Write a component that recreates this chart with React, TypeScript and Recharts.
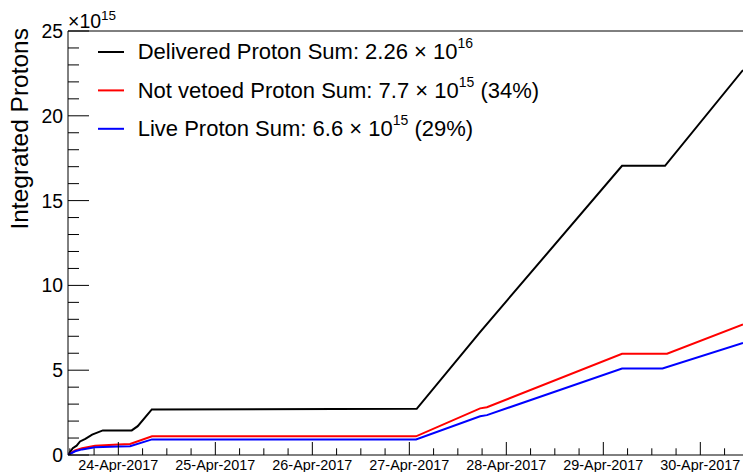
import React from 'react';
import { LineChart, Line, XAxis, YAxis, ReferenceLine, Legend } from 'recharts';

// time axis: days since 24-Apr-2017 00:00
const dayTicks = [0, 1, 2, 3, 4, 5, 6];
const dayLabels = ['24-Apr-2017', '25-Apr-2017', '26-Apr-2017', '27-Apr-2017', '28-Apr-2017', '29-Apr-2017', '30-Apr-2017'];
const minorOffsets = [-0.5, -0.25, 0, 0.25];
const xDomain = [-0.519, 6.44];

const yMajorTicks = [0, 5, 10, 15, 20, 25];
const yAllTicks = [0, 1, 2, 3, 4, 5, 6, 7, 8, 9, 10, 11, 12, 13, 14, 15, 16, 17, 18, 19, 20, 21, 22, 23, 24, 25];

// series (units of 1e15 protons)
const deliveredT = [-0.519, -0.47, -0.43, -0.395, -0.34, -0.27, -0.16, 0.138, 0.2, 0.345, 3.076, 3.729, 5.193, 5.636, 6.44];
const deliveredV = [0, 0.4, 0.55, 0.8, 0.95, 1.2, 1.45, 1.45, 1.7, 2.69, 2.72, 7.25, 17.05, 17.05, 22.7];

const notVetoedT = [-0.519, -0.446, -0.374, -0.24, 0.0, 0.121, 0.347, 3.069, 3.73, 3.8, 5.193, 5.657, 6.44];
const notVetoedV = [0, 0.27, 0.4, 0.55, 0.62, 0.65, 1.1, 1.1, 2.75, 2.82, 5.97, 5.97, 7.7];

const liveT = [-0.519, -0.446, -0.374, -0.24, 0.0, 0.121, 0.347, 3.069, 3.73, 3.8, 5.193, 5.61, 6.44];
const liveV = [0, 0.22, 0.33, 0.45, 0.5, 0.52, 0.92, 0.92, 2.28, 2.35, 5.1, 5.1, 6.6];

const seriesNames = ['Delivered Proton Sum', 'Not vetoed Proton Sum', 'Live Proton Sum'];
const seriesMantissa = ['2.26', '7.7', '6.6'];
const seriesExponent = ['16', '15', '15'];
const seriesFraction = ['', '(34%)', '(29%)'];
const seriesColors = ['#000000', '#ff0000', '#0000ff'];

const FONT = '"Liberation Sans", Arial, Helvetica, sans-serif';

const toRows = (ts: number[], vs: number[]) => ts.map((t, i) => ({ t, v: vs[i] }));
const deliveredData = toRows(deliveredT, deliveredV);
const notVetoedData = toRows(notVetoedT, notVetoedV);
const liveData = toRows(liveT, liveV);

const xTicks: number[] = [];
dayTicks.forEach((d) => minorOffsets.forEach((o) => {
  const v = d + o;
  if (v >= xDomain[0] && v <= xDomain[1] && !xTicks.includes(v)) xTicks.push(v);
}));
[6.25].forEach((v) => { if (!xTicks.includes(v)) xTicks.push(v); });
xTicks.sort((a, b) => a - b);

const XTick = (props: any) => {
  const { x, y, payload } = props;
  const v = payload.value;
  const idx = dayTicks.indexOf(v);
  const major = idx >= 0;
  return (
    <g>
      <line x1={x} x2={x} y1={y} y2={y - (major ? 13 : 6.7)} stroke="#000" strokeWidth={1} />
      {major && (
        <text x={x} y={y + 14.6} textAnchor="middle" fontSize={14.4} fontFamily={FONT} fill="#000">
          {dayLabels[idx]}
        </text>
      )}
    </g>
  );
};

const YTick = (props: any) => {
  const { x, y, payload } = props;
  const v = payload.value;
  const major = yMajorTicks.includes(v);
  return (
    <g>
      <line x1={x} x2={x + (major ? 21 : 11)} y1={y} y2={y} stroke="#000" strokeWidth={1} />
      {major && (
        <text x={x - 5} y={y + 7} textAnchor="end" fontSize={19.4} fontFamily={FONT} fill="#000">
          {v}
        </text>
      )}
    </g>
  );
};

const LegendBox = () => (
  <svg width={640} height={150} style={{ display: 'block' }}>
    {seriesNames.map((name, i) => {
      const base = 59.3 + i * 38.4;
      return (
        <g key={name}>
          <line x1={98} x2={124} y1={base - 7.3} y2={base - 7.3} stroke={seriesColors[i]} strokeWidth={2} />
          <text x={137.7} y={base} fontSize={22} fontFamily={FONT} fill="#000">
            {`${name}: ${seriesMantissa[i]} \u00d7 10`}
            <tspan dy={-11} fontSize={14}>{seriesExponent[i]}</tspan>
            <tspan dy={11} fontSize={22}>{seriesFraction[i] ? ` ${seriesFraction[i]}` : ''}</tspan>
          </text>
        </g>
      );
    })}
  </svg>
);

const YLabel = (props: any) => (
  <text
    x={27.5}
    y={28}
    transform="rotate(-90, 27.5, 28)"
    textAnchor="end"
    fontSize={24.5}
    fontFamily={FONT}
    fill="#000"
  >
    Integrated Protons
  </text>
);

export default function App() {
  return (
    <div style={{ position: 'absolute', left: 0, top: 0, width: 743, height: 472, background: '#fff', overflow: 'hidden' }}>
      <LineChart width={743} height={472} margin={{ top: 31, right: 0, bottom: 0, left: 0 }}>
        <XAxis
          dataKey="t"
          type="number"
          domain={xDomain}
          allowDataOverflow
          ticks={xTicks}
          interval={0}
          tick={<XTick />}
          tickLine={false}
          tickSize={0}
          tickMargin={0}
          height={17}
          axisLine={{ stroke: '#000', strokeWidth: 1 }}
        />
        <YAxis
          type="number"
          domain={[0, 25]}
          allowDataOverflow
          ticks={yAllTicks}
          interval={0}
          tick={<YTick />}
          tickLine={false}
          tickSize={0}
          tickMargin={0}
          width={68}
          axisLine={{ stroke: '#000', strokeWidth: 1 }}
          label={<YLabel />}
        />
        <ReferenceLine y={25} stroke="#000" strokeWidth={1} />
        <Line data={deliveredData} dataKey="v" name={seriesNames[0]} stroke={seriesColors[0]} strokeWidth={2} dot={false} isAnimationActive={false} type="linear" />
        <Line data={notVetoedData} dataKey="v" name={seriesNames[1]} stroke={seriesColors[1]} strokeWidth={2} dot={false} isAnimationActive={false} type="linear" />
        <Line data={liveData} dataKey="v" name={seriesNames[2]} stroke={seriesColors[2]} strokeWidth={2} dot={false} isAnimationActive={false} type="linear" />
        <Legend
          layout="horizontal"
          verticalAlign="middle"
          align="center"
          content={() => <LegendBox />}
          wrapperStyle={{ left: 0, top: 0, width: 640, height: 150, margin: 0, padding: 0 }}
        />
      </LineChart>
      <svg width={200} height={40} style={{ position: 'absolute', left: 0, top: 0, pointerEvents: 'none' }}>
        <text x={68} y={28} fontSize={19.5} fontFamily={FONT} fill="#000">
          {'\u00d710'}
          <tspan dy={-8.5} fontSize={13.5}>15</tspan>
        </text>
      </svg>
    </div>
  );
}
